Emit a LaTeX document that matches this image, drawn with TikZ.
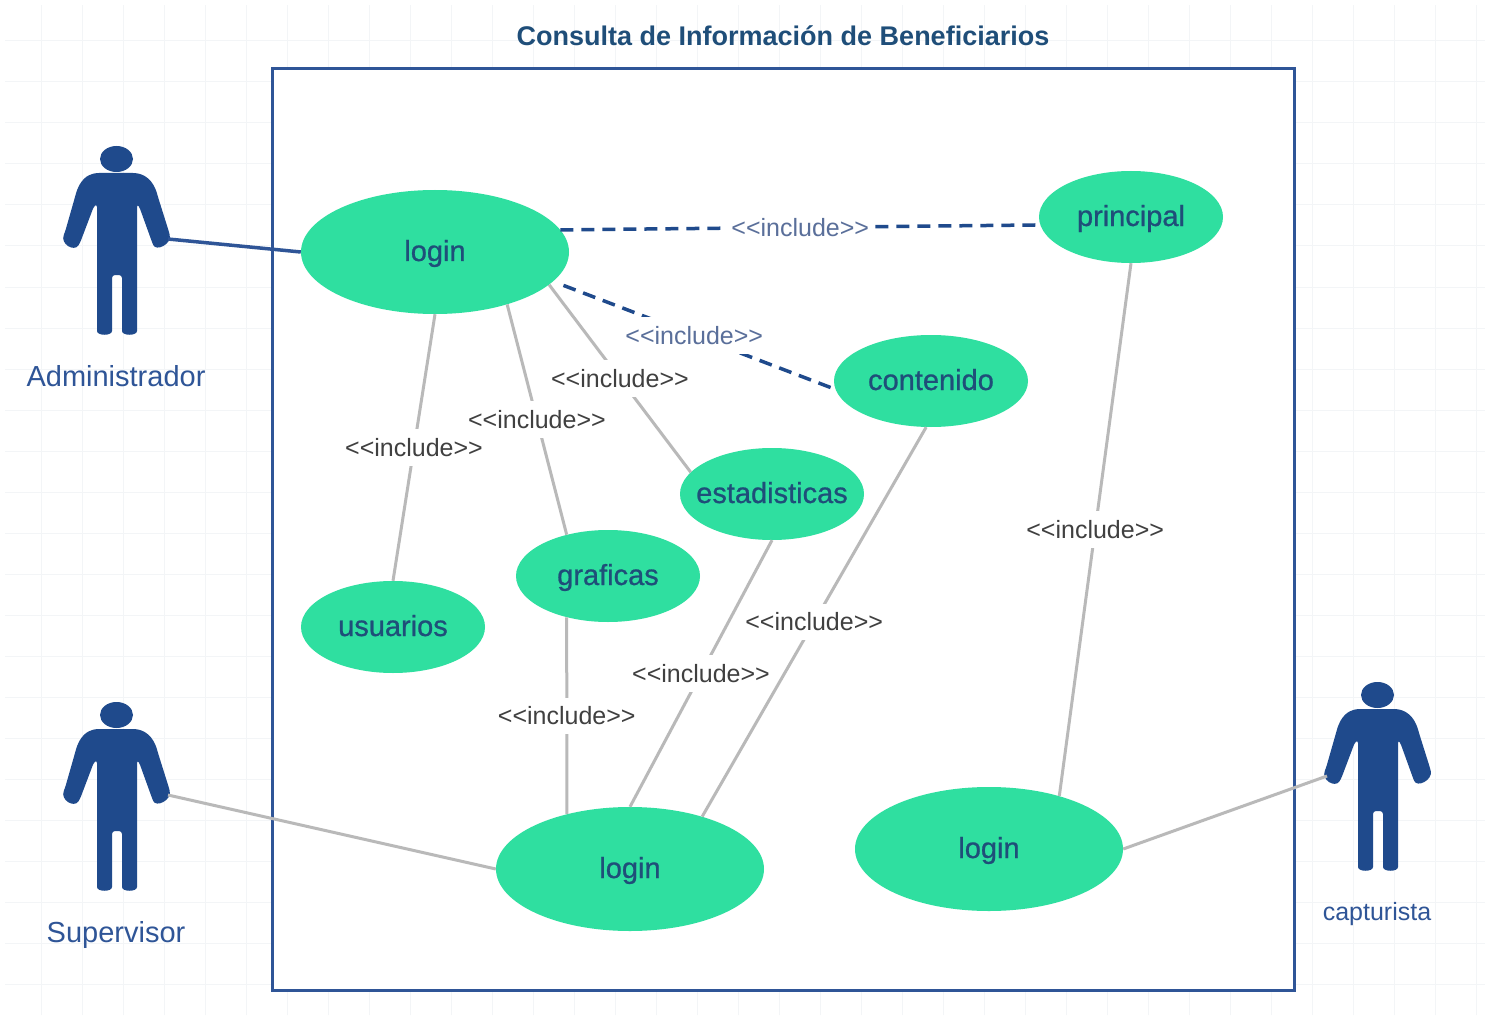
\documentclass[tikz,border=0pt]{standalone}
\usepackage{fontspec}
\setmainfont{Liberation Sans}
\newfontfamily\casefont[FakeBold=0.8]{Liberation Sans}
\usepackage{tikz}
\usetikzlibrary{shapes.geometric}
\definecolor{navy}{HTML}{1F4A8C}
\definecolor{boxblue}{HTML}{2F5597}
\definecolor{mint}{HTML}{2FDFA0}
\definecolor{casetext}{HTML}{1F4E79}
\definecolor{linegrey}{HTML}{B9B9B9}
\definecolor{gridgrey}{HTML}{F3F5F7}
\definecolor{dashlabel}{HTML}{5A6F9A}
\tikzset{
  usecase/.style={ellipse,fill=mint,text=casetext,inner sep=-30pt,text height=21pt,text depth=3pt,minimum width=184pt,minimum height=92pt,font=\casefont\fontsize{29}{32}\selectfont},
  bigcase/.style={usecase,minimum width=268pt,minimum height=124pt},
  solidline/.style={draw=linegrey,line width=3pt},
  blueline/.style={draw=boxblue,line width=3.5pt},
  dashline/.style={draw=navy,line width=3.5pt,dash pattern=on 13pt off 8pt},
  inclabel/.style={fill=white,text=black!75,inner xsep=1pt,inner ysep=9pt,font=\fontsize{25}{28}\selectfont},
  dashinc/.style={inclabel,text=dashlabel,inner xsep=6pt},
  actorname/.style={text=boxblue,font=\fontsize{29}{32}\selectfont},
  actor/.pic={
    \fill[navy] (0.5,-1) ellipse (16.5 and 13);
    \fill[navy,rounded corners=3pt] (0,13) -- (20,13) .. controls (28,15) and (37,19) .. (42,37)
      -- (53,72) .. controls (56,84) and (40,92) .. (36,82) -- (23,46) -- (21,44)
      -- (21,168) .. controls (21,176) and (6,176) .. (6,168) -- (6,115) -- (-4,115) -- (-4,168)
      .. controls (-4,176) and (-19,176) .. (-19,168) -- (-19,44) -- (-22,46) -- (-36,83)
      .. controls (-42,92) and (-56,84) .. (-51,72) -- (-41,37) .. controls (-36,19) and (-28,15) .. (-20,13) -- cycle;
    \coordinate (-right) at (52,79);
    \coordinate (-left) at (-50,80);
  }
}
\def\casenode{\node[usecase]}
\def\bigcasenode{\node[bigcase]}
\begin{document}
\begin{tikzpicture}[x=1pt,y=-1pt]
\useasboundingbox (0,0) rectangle (1494,1019);
\fill[white] (0,0) rectangle (1494,1019);
\draw[gridgrey,line width=1pt,step=41pt] (5,5) grid (1485,1015);
\node (title) at (783,36) [text=casetext,font=\fontsize{27}{32}\selectfont\bfseries] {Consulta de Información de Beneficiarios};
\draw[boxblue,fill=white,line width=3pt] (272,69) rectangle (1294,990);
\pic (admin) at (116,160) {actor};
\pic (super) at (116,716) {actor};
\pic (captu) at (1377,696) {actor};
\node[actorname] (adminname) at (116,376) {Administrador};
\node[actorname] (supername) at (116,935) {Supervisor};
\node[actorname,font=\fontsize{25}{28}\selectfont] (captuname) at (1377,914) {capturista};
\bigcasenode (loginadmin) at (435,252) {login};
\bigcasenode (loginsuper) at (630,869) {login};
\bigcasenode (logincaptu) at (989,849) {login};
\casenode (principal) at (1131,217) {principal};
\casenode[minimum width=194pt] (contenido) at (931,381) {contenido};
\casenode (estadisticas) at (772,494) {estadisticas};
\casenode (graficas) at (608,576) {graficas};
\casenode (usuarios) at (393,627) {usuarios};
\draw[blueline] (admin-right) to (loginadmin.west);
\draw[solidline] (super-right) to (loginsuper.west);
\draw[solidline] (logincaptu.east) to (captu-left);
\draw[dashline] (loginadmin.10) to node[dashinc] (incprincipal) {<{}<include>{}>} (principal.185);
\draw[dashline,shorten <=11pt] (loginadmin.-14) to node[dashinc] (inccontenido) {<{}<include>{}>} (contenido.185);
\draw[solidline] (loginadmin.south) to node[inclabel] (incusuarios) {<{}<include>{}>} (usuarios.north);
\draw[solidline] (loginadmin.-36) to node[inclabel] (incgraficas) {<{}<include>{}>} (graficas.135);
\draw[solidline] (loginadmin.-16) to node[inclabel] (incestadisticas) {<{}<include>{}>} (estadisticas.165);
\draw[solidline] (graficas.225) to node[inclabel] (incsupgraf) {<{}<include>{}>} (loginsuper.139);
\draw[solidline] (estadisticas.south) to node[inclabel] (incsupest) {<{}<include>{}>} (loginsuper.north);
\draw[solidline] (contenido.264) to node[inclabel] (incsupcont) {<{}<include>{}>} (loginsuper.36);
\draw[solidline] (principal.south) to node[inclabel] (inccaptu) {<{}<include>{}>} (logincaptu.37);
\end{tikzpicture}
\end{document}
